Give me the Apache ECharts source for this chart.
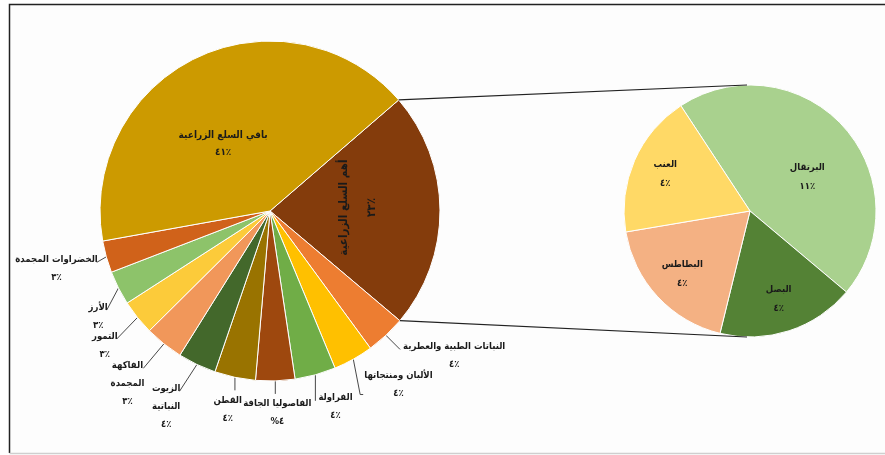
<!DOCTYPE html>
<html><head><meta charset="utf-8">
<script src="https://cdn.jsdelivr.net/npm/echarts@6/dist/echarts.min.js"></script>
<style>html,body{margin:0;padding:0;background:#fff}#c{width:885px;height:455px}</style>
</head><body><div id="c"></div>
<script>
// ---- data ----
const mainNames = ['أهم السلع الزراعية','النباتات الطبية والعطرية','الألبان ومنتجاتها','الفراولة','الفاصوليا الجافة','القطن','الزيوت النباتية','الفاكهة المجمدة','التمور','الأرز','الخضراوات المجمدة','باقي السلع الزراعية'];
const mainLabelNames = ['أهم السلع الزراعية','النباتات الطبية والعطرية','الألبان ومنتجاتها','الفراولة','الفاصوليا الجافة','القطن','الزيوت\nالنباتية','الفاكهة\nالمجمدة','التمور','الأرز','الخضراوات المجمدة','باقي السلع الزراعية'];
const mainValues = [22.5, 3.78, 3.81, 3.89, 3.72, 3.89, 3.64, 3.67, 3.33, 3.25, 3.03, 41.5];
const mainPctText = ['٢٣٪','٤٪','٤٪','٤٪','%٤','٤٪','٤٪','٣٪','٣٪','٣٪','٣٪','٤١٪'];
const subNames = ['البرتقال','البصل','البطاطس','العنب'];
const subValues = [10.2, 3.98, 4.16, 4.14];
const subPctText = ['١١٪','٤٪','٤٪','٤٪'];

// ---- styles ----
const mainColors = ['#843C0C','#ED7D31','#FFC000','#70AD47','#9E480E','#997300','#43682B','#F1975A','#FCCB3A','#8DC36A','#D0621A','#CC9A00'];
const subColors = ['#A9D18E','#548235','#F4B183','#FFD966'];
const FONT = '"DejaVu Sans Condensed", "DejaVu Sans", sans-serif';
const C1 = [270, 211], R1 = 170, START1 = 40.8;
const C2 = [750, 211], R2 = 126, START2 = 123.3;
// leader style per slice: [direction deg (screen, clockwise from east), length, mode]
const leaderStyle = {
  1: [45, 20, 'R'], 2: [79, 36, 'RB'], 3: [90, 26, 'R'], 4: [90, 13, 'B'], 5: [90, 13, 'BR'],
  6: [123, 32, 'L'], 7: [130, 32, 'L'], 8: [134, 30, 'L'], 9: [118, 25, 'L'], 10: [150, 11, 'L']
};
// inside label nudges (label styling)
const insideShift = {0: [3, 0], 11: [-9, 12]};
const subShift = {0: [8, 10]};
const LH = 18;

const chart = echarts.init(document.getElementById('c'), null, {renderer: 'canvas'});

function lbl(nameText, pct) {
  return nameText.split('\n').map(s => '{n|' + s + '}').join('\n') + '\n{p|' + pct + '}';
}
function tok(size, lh) {
  return {align: 'center', fontSize: size, fontWeight: 'bold', color: '#1a1a1a', fontFamily: FONT, lineHeight: lh};
}

const mainData = mainNames.map((n, i) => {
  const d = {name: n, value: mainValues[i], itemStyle: {color: mainColors[i]}};
  if (i === 0) {
    d.label = {position: 'inside', rotate: 90, rich: {n: tok(11.5, 28), p: tok(11.5, 28)}};
    d.labelLine = {show: false};
  } else if (i === mainNames.length - 1) {
    d.label = {position: 'inside', rich: {n: tok(10, 17), p: tok(10, 17)}};
    d.labelLine = {show: false};
  }
  return d;
});

const subData = subNames.map((n, i) => ({name: n, value: subValues[i], itemStyle: {color: subColors[i]}}));

// slice mid-angles (screen degrees) from the data
const totalMain = mainValues.reduce((a, b) => a + b, 0);
const midAngles = [];
(function () {
  let acc = -START1;
  mainValues.forEach(v => { const span = 360 * v / totalMain; midAngles.push(acc + span / 2); acc += span; });
})();

// connector line endpoints derived from the pie geometry and data
const a0 = START1 * Math.PI / 180;
const a1 = (START1 - 360 * mainValues[0] / totalMain) * Math.PI / 180;
const pTop = [C1[0] + R1 * Math.cos(a0), C1[1] - R1 * Math.sin(a0)];
const pBot = [C1[0] + R1 * Math.cos(a1), C1[1] - R1 * Math.sin(a1)];
const qTop = [C2[0] - 3, C2[1] - R2];
const qBot = [C2[0] - 3, C2[1] + R2];

function mainLabelLayout(p) {
  const i = p.dataIndex;
  const s = leaderStyle[i];
  if (!s) {
    const sh = insideShift[i] || [0, 0];
    return {hideOverlap: false, dx: sh[0], dy: sh[1]};
  }
  const m = midAngles[i] * Math.PI / 180;
  const r0 = [C1[0] + R1 * Math.cos(m), C1[1] + R1 * Math.sin(m)];
  const d = s[0] * Math.PI / 180;
  const e = [r0[0] + s[1] * Math.cos(d), r0[1] + s[1] * Math.sin(d)];
  const mode = s[2];
  if (mode === 'B') {
    return {hideOverlap: false, x: e[0] + 2, y: e[1] + 1, align: 'center', verticalAlign: 'top', labelLinePoints: [r0, e, e]};
  }
  if (mode === 'BR') {
    return {hideOverlap: false, x: e[0] + 7, y: e[1] + 1, align: 'right', verticalAlign: 'top', labelLinePoints: [r0, e, e]};
  }
  if (mode === 'R') {
    return {hideOverlap: false, x: e[0] + 3, y: e[1] - LH / 2 - 3, align: 'left', verticalAlign: 'top', labelLinePoints: [r0, e, e]};
  }
  if (mode === 'RB') {
    const e2 = [e[0] + 3, e[1]];
    return {hideOverlap: false, x: e2[0] + 1, y: e2[1] + LH / 2 - 1, align: 'left', verticalAlign: 'bottom', labelLinePoints: [r0, e, e2]};
  }
  // 'L'
  return {hideOverlap: false, x: e[0] + 1, y: e[1] - LH / 2 - 3, align: 'right', verticalAlign: 'top', labelLinePoints: [r0, e, e]};
}

chart.setOption({
  backgroundColor: '#ffffff',
  animation: false,
  graphic: [
    {type: 'rect', z: -10, shape: {x: 9.5, y: 4.5, width: 880, height: 449}, style: {fill: '#fdfdfd', stroke: null}},
    {type: 'polyline', z: -9, shape: {points: [[9.5, 453], [9.5, 4.5], [885, 4.5]]}, style: {stroke: '#222', lineWidth: 1.5, fill: null}},
    {type: 'line', z: -9, shape: {x1: 9.5, y1: 453.5, x2: 885, y2: 453.5}, style: {stroke: '#cfcfcf', lineWidth: 1.5}},
    {type: 'line', z: 10, shape: {x1: pTop[0], y1: pTop[1], x2: qTop[0], y2: qTop[1]}, style: {stroke: '#222', lineWidth: 1.2}},
    {type: 'line', z: 10, shape: {x1: pBot[0], y1: pBot[1], x2: qBot[0], y2: qBot[1]}, style: {stroke: '#222', lineWidth: 1.2}}
  ],
  series: [
    {
      type: 'pie',
      center: C1,
      radius: R1,
      startAngle: START1,
      clockwise: true,
      avoidLabelOverlap: false,
      itemStyle: {borderColor: '#fff', borderWidth: 1},
      label: {
        show: true,
        position: 'outside',
        formatter: p => lbl(mainLabelNames[p.dataIndex], mainPctText[p.dataIndex]),
        rich: {n: tok(9.5, LH), p: tok(9.5, LH)}
      },
      labelLine: {show: true, length: 14, length2: 6, lineStyle: {color: '#333', width: 0.9}},
      labelLayout: mainLabelLayout,
      emphasis: {disabled: true},
      data: mainData
    },
    {
      type: 'pie',
      center: C2,
      radius: R2,
      startAngle: START2,
      clockwise: true,
      itemStyle: {borderColor: '#fff', borderWidth: 1},
      label: {
        show: true,
        position: 'inside',
        formatter: p => lbl(subNames[p.dataIndex], subPctText[p.dataIndex]),
        rich: {n: tok(9.5, 19), p: tok(9.5, 19)}
      },
      labelLayout: function (p) {
        const f = p.dataIndex === 0 ? 0.5 : 0.7;
        const k = f / 0.5 - 1;
        const lx = p.labelRect.x + p.labelRect.width / 2 - C2[0];
        const ly = p.labelRect.y + p.labelRect.height / 2 - C2[1];
        const sh = subShift[p.dataIndex] || [0, 0];
        return {dx: lx * k + sh[0], dy: ly * k + sh[1]};
      },
      emphasis: {disabled: true},
      data: subData
    }
  ]
});
</script>
</body></html>
